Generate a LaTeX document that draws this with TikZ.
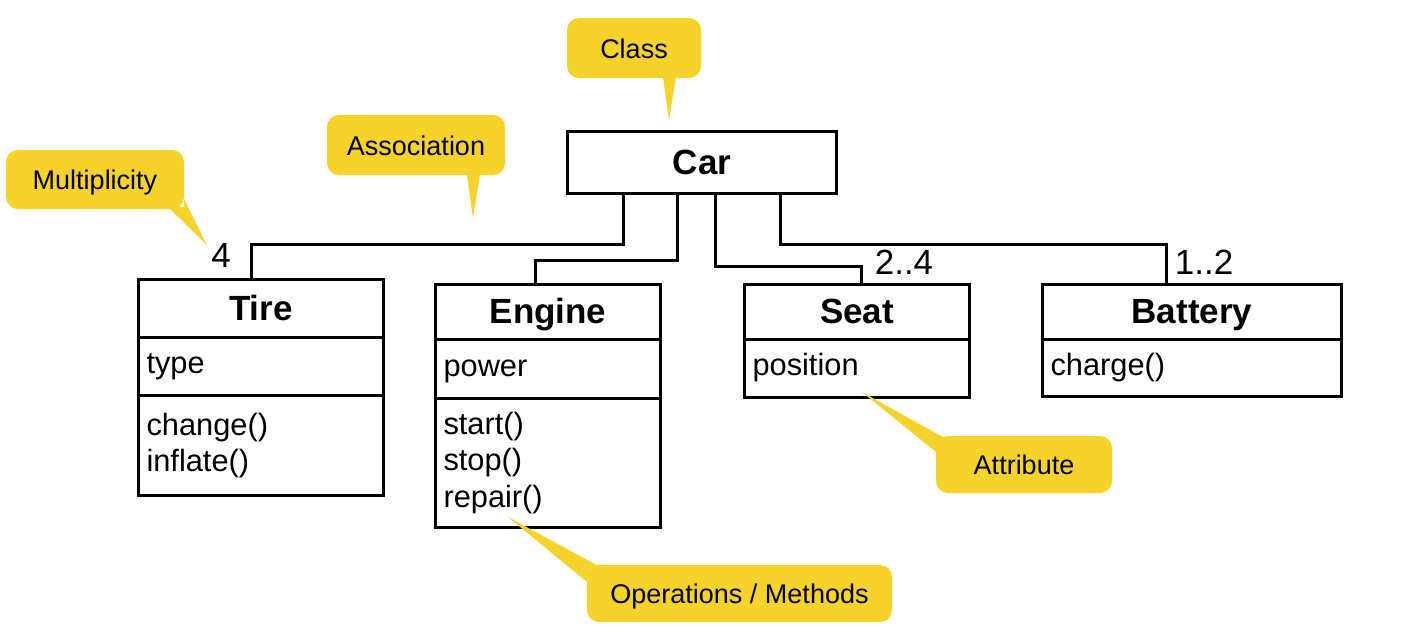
\documentclass[tikz,border=0pt]{standalone}
\usepackage{fontspec}
\setmainfont{Liberation Sans}
\definecolor{callout}{RGB}{245,211,42}
\begin{document}
\begin{tikzpicture}[x=1pt,y=-1pt,
  box/.style={draw, line width=3pt, inner sep=0pt, anchor=north west},
  title/.style={box, font=\fontsize{35}{40}\selectfont\bfseries, align=center, text height=26pt, text depth=3pt},
  comp/.style={box, font=\fontsize{30.8}{36.5}\selectfont, align=left, inner xsep=8pt},
  onecomp/.style={comp, text height=22pt, text depth=8pt},
  conn/.style={line width=3pt},
  tag/.style={fill=callout, rounded corners=12pt, inner sep=0pt, font=\fontsize{27}{30}\selectfont, text height=20pt, text depth=0pt},
  mult/.style={font=\fontsize{35}{38}\selectfont, inner sep=0pt}
]
\useasboundingbox[fill=white] (0,0) rectangle (1404,638);

% Car
\node[title, minimum width=269pt, minimum height=62pt] (car) at (566,130) {Car};

% Tire
\node[title, minimum width=245pt, minimum height=58pt] (tire) at (137,278) {Tire};
\node[onecomp, text width=229pt, minimum width=245pt, minimum height=58pt] (tireA) at (137,336) {type};
\node[comp, text width=229pt, minimum width=245pt, minimum height=100pt] (tireM) at (137,394) {change()\\inflate()};

% Engine
\node[title, minimum width=225pt, minimum height=55pt] (engine) at (434,283) {Engine};
\node[onecomp, text width=209pt, minimum width=225pt, minimum height=59pt] (engineA) at (434,338) {power};
\node[comp, text width=209pt, minimum width=225pt, minimum height=129pt] (engineM) at (434,397) {start()\\stop()\\repair()};

% Seat
\node[title, minimum width=225pt, minimum height=55pt] (seat) at (743,283) {Seat};
\node[onecomp, text width=209pt, minimum width=225pt, minimum height=58pt] (seatA) at (743,338) {position};

% Battery
\node[title, minimum width=299pt, minimum height=55pt] (battery) at (1041,283) {Battery};
\node[onecomp, text width=283pt, minimum width=299pt, minimum height=57pt] (batteryM) at (1041,338) {charge()};

% Associations
\draw[conn] ([xshift=57pt]car.south west) -- ++(0,49) -| ([xshift=114pt]tire.north west);
\draw[conn] ([xshift=111pt]car.south west) -- ++(0,65) -| ([xshift=101pt]engine.north west);
\draw[conn] ([xshift=149pt]car.south west) -- ++(0,71) -| ([xshift=118pt]seat.north west);
\draw[conn] ([xshift=214pt]car.south west) -- ++(0,49) -| ([xshift=125pt]battery.north west);

% Multiplicities
\node[mult] (m4) at (221,255) {4};
\node[mult] (m24) at (904,262) {2..4};
\node[mult] (m12) at (1204,262) {1..2};

% Callouts
\coordinate (classTip) at (669,120);
\coordinate (assocTip) at (473,218);
\coordinate (multTip) at (207,245);
\coordinate (attrTip) at (862,392);
\coordinate (opTip) at (508,517);

\fill[callout] (662,70) -- (classTip) -- (677,70) -- cycle;
\fill[callout] (466,168) -- (assocTip) -- (481,168) -- cycle;
\fill[callout] (168,207) -- (multTip) -- (184,199) -- (184,207) -- cycle;
\fill[callout] (948,440) -- (attrTip) -- (936,452) -- (940,440) -- cycle;
\fill[callout] (602,568) -- (opTip) -- (587,582) -- (590,568) -- cycle;

\node[tag, minimum width=134pt, minimum height=60pt] (class) at (634,48) {Class};
\node[tag, minimum width=178pt, minimum height=60pt] (assoc) at (416,145) {Association};
\node[tag, minimum width=178pt, minimum height=59pt] (multc) at (95,179.5) {Multiplicity};
\node[tag, minimum width=176pt, minimum height=57pt] (attr) at (1024,464.5) {Attribute};
\node[tag, minimum width=305pt, minimum height=57pt] (ops) at (739.5,593.5) {Operations / Methods};
\end{tikzpicture}
\end{document}
